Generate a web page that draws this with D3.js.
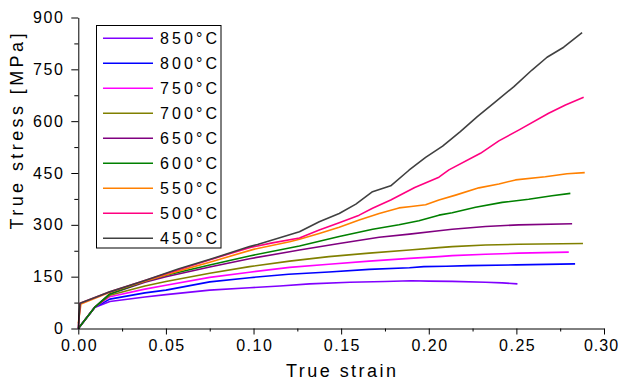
<!DOCTYPE html>
<html>
<head>
<meta charset="utf-8">
<script src="https://cdn.jsdelivr.net/npm/d3@7"></script>
<style>
  html, body { margin: 0; padding: 0; background: #fff; }
  svg { display: block; font-family: Arial, "Liberation Sans", sans-serif; }
</style>
</head>
<body>
<svg id="chart" width="619" height="383"></svg>
<script>
// ---------- data (strain, stress MPa) ----------
const labels = ["850°C","800°C","750°C","700°C","650°C","600°C","550°C","500°C","450°C"];
const colors = ["#8000ff","#0000ff","#ff00ff","#808000","#800080","#008000","#ff8000","#ff0080","#404040"];

const s850 = [[0,0],[0.0093,61],[0.018,78],[0.038,91],[0.05,98],[0.075,111],[0.0977,118],[0.115,123],[0.132,129],[0.155,134],[0.175,136],[0.19,138],[0.2,137],[0.2134,136.5],[0.2324,134],[0.242,132],[0.2506,129]];
const s800 = [[0,0],[0.0093,61],[0.018,85],[0.038,103],[0.05,111],[0.075,135],[0.0977,147],[0.12,157],[0.143,163.5],[0.166,171],[0.189,176],[0.1972,179],[0.21,180],[0.223,182],[0.25,184],[0.2835,187]];
const s750 = [[0,0],[0.0093,61],[0.018,92],[0.038,114],[0.05,125],[0.075,148],[0.0977,163],[0.1206,177],[0.143,186],[0.166,195],[0.189,203],[0.2058,208],[0.2134,211],[0.2324,215],[0.2513,218],[0.2799,221]];
const s700 = [[0,0],[0.0093,61],[0.018,96],[0.038,123],[0.05,136],[0.075,160],[0.0977,179],[0.1206,195],[0.143,208],[0.166,218],[0.189,227],[0.2058,234],[0.2134,237],[0.2324,241.6],[0.2513,243.6],[0.288,246]];
const s650 = [[0,0],[0.0093,61],[0.018,100],[0.038,134],[0.05,150],[0.075,178],[0.0977,202],[0.1206,222],[0.1262,227],[0.1489,246],[0.1717,264],[0.189,273],[0.2058,283],[0.2134,287],[0.2324,295],[0.2513,300],[0.2818,303]];
const s600 = [[0,0],[0.0093,61],[0.018,100],[0.038,137],[0.05,154],[0.075,184],[0.0977,210],[0.1262,239],[0.1489,266],[0.168,287],[0.183,300],[0.1944,312],[0.2058,328],[0.2134,335],[0.2267,351],[0.2419,365],[0.257,374],[0.2703,384],[0.2808,391]];
const s550 = [[0,15],[0.0015,71],[0.018,105],[0.038,137],[0.057,166],[0.075,192],[0.1,229],[0.1206,251],[0.1262,258],[0.1375,275],[0.1489,293],[0.1603,314],[0.1717,333],[0.183,349],[0.19,353],[0.1982,358],[0.2058,372],[0.2153,386],[0.2286,407],[0.24,418],[0.2495,430],[0.2665,439],[0.2789,448],[0.289,451]];
const s500 = [[0,0],[0.001,73],[0.018,106],[0.038,139],[0.057,170],[0.0757,200],[0.0977,234],[0.11,247],[0.1262,262],[0.1375,285],[0.1489,306],[0.1603,328],[0.1679,348],[0.1783,372],[0.192,408],[0.2058,438],[0.2115,459],[0.2295,507],[0.24,543],[0.2513,574],[0.2684,623],[0.278,647],[0.2884,669]];
const s450 = [[0,0],[0.001,73],[0.018,106],[0.038,139],[0.057,172],[0.0757,201],[0.0977,237],[0.1023,243],[0.1262,280],[0.1375,309],[0.1489,333],[0.1584,360],[0.1679,396],[0.1783,413],[0.1887,458],[0.1982,495],[0.2079,528],[0.218,570],[0.2277,613],[0.238,656],[0.2486,700],[0.2589,748],[0.2675,785],[0.277,814],[0.2875,856]];
const seriesData = [s850, s800, s750, s700, s650, s600, s550, s500, s450];

const xTicks = [0, 0.05, 0.10, 0.15, 0.20, 0.25, 0.30];
const xMinor = [0.025, 0.075, 0.125, 0.175, 0.225, 0.275];
const yTicks = [0, 150, 300, 450, 600, 750, 900];
const yMinor = [75, 225, 375, 525, 675, 825];
const xTitle = "True strain";
const yTitle = "True stress [MPa]";

// ---------- drawing ----------
const svg = d3.select("#chart");
const x = d3.scaleLinear().domain([0, 0.3]).range([78.3, 604]);
const y = d3.scaleLinear().domain([0, 900]).range([328.5, 17.5]);

const font = "Arial, 'Liberation Sans', sans-serif";

// minor ticks
svg.append("g").attr("transform", `translate(0,${y(0)})`)
  .call(d3.axisBottom(x).tickValues(xMinor).tickSize(3).tickSizeOuter(0).tickFormat(""))
  .call(g => g.select(".domain").remove());
svg.append("g").attr("transform", `translate(${x(0)},0)`)
  .call(d3.axisLeft(y).tickValues(yMinor).tickSize(4).tickSizeOuter(0).tickFormat(""))
  .call(g => g.select(".domain").remove());

// lines
const line = d3.line().x(d => x(d[0])).y(d => y(d[1]));
svg.append("g").selectAll("path").data(seriesData).join("path")
  .attr("d", line)
  .attr("fill", "none")
  .attr("stroke", (d, i) => colors[i])
  .attr("stroke-width", 1.6)
  .attr("stroke-linejoin", "round");

// major axes
const gx = svg.append("g").attr("transform", `translate(0,${y(0)})`)
  .call(d3.axisBottom(x).tickValues(xTicks).tickFormat(d3.format(".2f")).tickSize(6).tickSizeOuter(0).tickPadding(5));
const gy = svg.append("g").attr("transform", `translate(${x(0)},0)`)
  .call(d3.axisLeft(y).tickValues(yTicks).tickFormat(d3.format("d")).tickSize(7).tickSizeOuter(0).tickPadding(7));
[gx, gy].forEach(g => {
  g.selectAll("text").attr("font-size", 16).attr("font-family", font)
    .attr("fill", "#000").style("letter-spacing", "1.5px");
  g.selectAll("line").attr("stroke", "#000");
  g.select(".domain").attr("stroke", "#000");
});
gx.selectAll("text").attr("dx", "0.75px");
gx.selectAll(".tick:last-of-type text").style("letter-spacing", "1px").attr("dx", "-3px");

// axis titles
svg.append("text")
  .attr("x", 341).attr("y", 377)
  .attr("text-anchor", "middle")
  .attr("font-size", 18).attr("font-family", font)
  .attr("textLength", 110).attr("lengthAdjust", "spacing")
  .text(xTitle);
svg.append("text")
  .attr("transform", "translate(22.5,131.5) rotate(-90)")
  .attr("text-anchor", "middle")
  .attr("font-size", 18).attr("font-family", font)
  .attr("textLength", 196).attr("lengthAdjust", "spacing")
  .text(yTitle);

// legend
const leg = svg.append("g");
leg.append("rect").attr("x", 96.5).attr("y", 25.5).attr("width", 124.5).attr("height", 222.5)
  .attr("fill", "#fff").attr("stroke", "#000").attr("stroke-width", 1);
const rows = leg.selectAll("g.row").data(labels).join("g").attr("class", "row")
  .attr("transform", (d, i) => `translate(0,${38.3 + i * 25})`);
rows.append("line").attr("x1", 103).attr("x2", 153).attr("y1", 0).attr("y2", 0)
  .attr("stroke", (d, i) => colors[i]).attr("stroke-width", 1.6);
rows.append("text").attr("x", 160).attr("y", 5.8)
  .attr("font-size", 16).attr("font-family", font)
  .attr("textLength", 57).attr("lengthAdjust", "spacing")
  .text(d => d);
</script>
</body>
</html>
